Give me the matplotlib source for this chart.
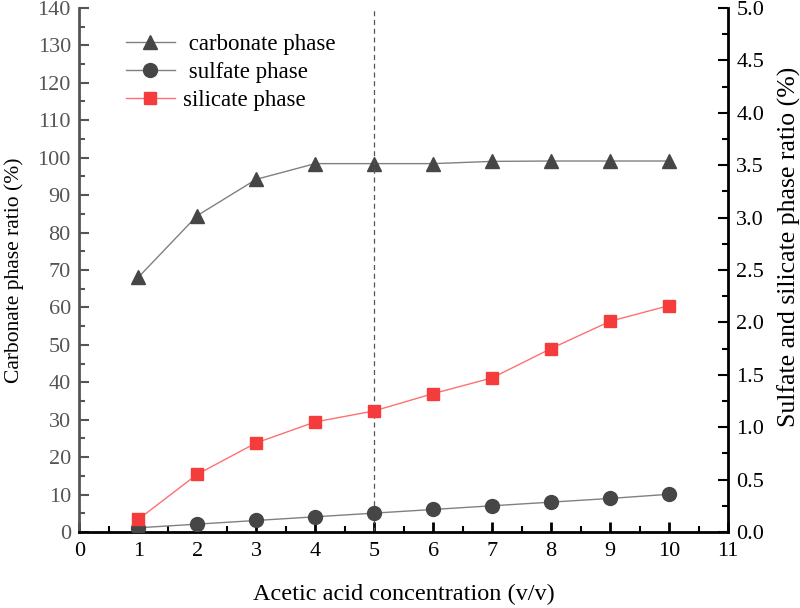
import matplotlib
matplotlib.use("Agg")
import matplotlib.pyplot as plt
from matplotlib.ticker import MultipleLocator, FormatStrFormatter

plt.rcParams["font.family"] = ["Liberation Serif", "DejaVu Serif"]
plt.rcParams["font.size"] = 16

conc = [1, 2, 3, 4, 5, 6, 7, 8, 9, 10]
carbonate = [68.0, 84.5, 94.2, 98.4, 98.4, 98.4, 99.0, 99.1, 99.1, 99.1]
sulfate = [0.04, 0.075, 0.11, 0.145, 0.18, 0.215, 0.25, 0.285, 0.32, 0.36]
silicate = [0.12, 0.55, 0.85, 1.05, 1.155, 1.32, 1.47, 1.75, 2.01, 2.16]
dash_x = 5

fig = plt.figure(figsize=(8, 6.08), dpi=100)
ax = fig.add_axes([0.099, 0.125, 0.811, 0.862])
ax2 = ax.twinx()

dark = "#464646"
red = "#f53c3c"

l1, = ax.plot(conc, carbonate, color="#808080", lw=1, marker="^", ms=10,
              mfc=dark, mec=dark, label=" carbonate phase")
l2, = ax2.plot(conc, sulfate, color="#808080", lw=1, marker="o", ms=10,
               mfc=dark, mec=dark, label=" sulfate phase")
l3, = ax2.plot(conc, silicate, color="#ff7070", lw=1, marker="s", ms=9,
               mfc=red, mec=red, label="silicate phase")
ax.axvline(dash_x, color="#555555", lw=0.9, ls=(0, (4, 3)))

ax.set_xlim(0, 11)
ax.set_ylim(0, 140)
ax2.set_ylim(0, 5.0)
ax.xaxis.set_major_locator(MultipleLocator(1))
ax.xaxis.set_minor_locator(MultipleLocator(0.5))
ax.yaxis.set_major_locator(MultipleLocator(10))
ax.yaxis.set_minor_locator(MultipleLocator(5))
ax2.yaxis.set_major_locator(MultipleLocator(0.5))
ax2.yaxis.set_minor_locator(MultipleLocator(0.25))
ax2.yaxis.set_major_formatter(FormatStrFormatter("%.1f"))

ax.tick_params(axis="y", which="major", direction="in", length=7, width=1.5,
               colors="#555555", labelcolor="#555555", pad=6)
ax.tick_params(axis="y", which="minor", direction="in", length=4, width=1.5,
               colors="#555555")
ax.tick_params(axis="x", which="major", direction="in", length=7, width=2,
               colors="black", pad=7)
ax.tick_params(axis="x", which="minor", direction="in", length=4, width=1.5)
ax2.tick_params(axis="y", which="major", direction="in", length=7, width=1.5,
                pad=6)
ax2.tick_params(axis="y", which="minor", direction="in", length=4, width=1.5)

ax.spines["left"].set_color("#555555")
ax.spines["left"].set_linewidth(2)
ax.spines["bottom"].set_linewidth(2)
ax2.spines["right"].set_linewidth(2)
ax.spines["top"].set_visible(False)
ax2.spines["top"].set_visible(False)
ax2.spines["left"].set_visible(False)
ax2.spines["bottom"].set_visible(False)

ax.set_xlabel("Acetic acid concentration (v/v)", fontsize=17.5, labelpad=17)
ax.set_ylabel("Carbonate phase ratio (%)", fontsize=15.5, labelpad=10)
ax2.set_ylabel("Sulfate and silicate phase ratio (%)", fontsize=18.5)
ax2.yaxis.set_label_coords(1.076, 0.544)

ax.legend(handles=[l1, l2, l3], loc="upper left", bbox_to_anchor=(0.041, 0.99),
          frameon=False, handlelength=2.1, handletextpad=0.35,
          labelspacing=0.3, fontsize=16.5)

fig.savefig("out.png", dpi=100)
